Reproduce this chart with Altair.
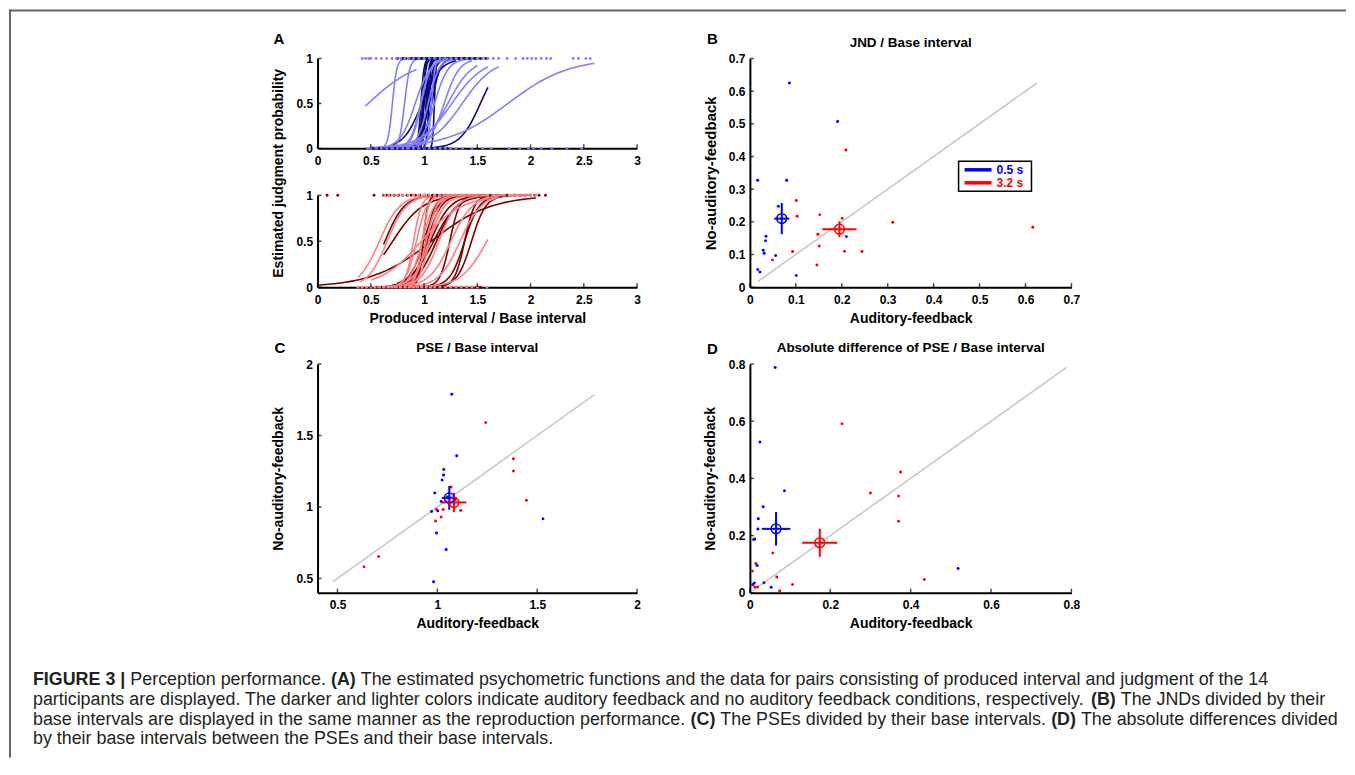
import numpy as np
import pandas as pd
import altair as alt

FONT = "Liberation Sans"
BLUE, RED = "#0000ff", "#ff0000"
DARK_BLUE, LIGHT_BLUE = "#0a0a78", "#7f7fff"
DARK_RED, LIGHT_RED = "#7a0000", "#ff7f7f"
GRAY = "#c8c8c8"
CONDS = ["0.5 s", "3.2 s"]

# ---------------- participant data (index = participant) ----------------
# JND / base interval (panel B): auditory feedback (x), no auditory feedback (y)
jnd05_af = [0.086, 0.191, 0.210, 0.017, 0.080, 0.062, 0.035, 0.034, 0.029, 0.031, 0.056, 0.017, 0.022, 0.101]
jnd05_naf = [0.625, 0.507, 0.155, 0.327, 0.327, 0.248, 0.156, 0.142, 0.113, 0.104, 0.097, 0.054, 0.046, 0.036]
jnd32_af = [0.616, 0.311, 0.201, 0.049, 0.093, 0.101, 0.103, 0.152, 0.148, 0.151, 0.146, 0.209, 0.206, 0.244]
jnd32_naf = [0.183, 0.199, 0.211, 0.083, 0.109, 0.265, 0.217, 0.222, 0.162, 0.126, 0.068, 0.420, 0.110, 0.109]
# PSE / base interval (panel C)
pse05_af = [1.072, 0.981, 1.529, 1.097, 1.032, 1.031, 1.024, 0.987, 1.019, 0.971, 1.002, 0.996, 1.044, 1.050]
pse05_naf = [1.788, 0.477, 0.917, 1.359, 1.262, 1.224, 1.189, 1.098, 1.038, 0.968, 0.973, 0.817, 0.703, 1.070]
pse32_af = [1.069, 0.706, 0.633, 0.991, 1.019, 1.242, 1.381, 1.381, 1.446, 0.996, 1.029, 1.117, 1.060, 1.090]
pse32_naf = [1.140, 0.654, 0.581, 0.901, 0.929, 1.590, 1.338, 1.252, 1.047, 0.982, 0.982, 0.975, 1.020, 1.050]
# Absolute difference of PSE / base interval (panel D)
ad05_af = [0.063, 0.025, 0.086, 0.033, 0.021, 0.020, 0.012, 0.009, 0.018, 0.011, 0.007, 0.035, 0.053, 0.518]
ad05_naf = [0.788, 0.527, 0.357, 0.301, 0.259, 0.223, 0.188, 0.186, 0.095, 0.034, 0.029, 0.035, 0.019, 0.085]
ad32_af = [0.229, 0.375, 0.300, 0.370, 0.370, 0.057, 0.015, 0.006, 0.067, 0.106, 0.012, 0.019, 0.074, 0.434]
ad32_naf = [0.591, 0.422, 0.349, 0.338, 0.250, 0.139, 0.102, 0.076, 0.055, 0.029, 0.020, 0.020, 0.006, 0.046]

# range of produced intervals covered by each participant's psychometric function (panel A)
rng05_af_lo = [0.80, 0.70, 0.95, 0.85, 0.80, 0.75, 0.85, 0.80, 0.90, 0.85, 0.90, 0.85, 0.90, 0.95]
rng05_af_hi = [1.45, 1.30, 1.60, 1.50, 1.40, 1.35, 1.55, 1.30, 1.40, 1.25, 1.45, 1.30, 1.50, 1.35]
rng05_naf_lo = [0.50, 0.45, 0.60, 0.70, 0.65, 0.70, 0.80, 0.75, 0.70, 0.60, 0.60, 0.60, 0.55, 0.80]
rng05_naf_hi = [2.60, 0.93, 1.30, 1.70, 1.60, 1.50, 1.45, 1.40, 1.35, 1.30, 1.25, 1.10, 1.00, 1.30]
rng32_af_lo = [0.00, 0.62, 0.62, 0.70, 0.70, 0.80, 0.80, 0.75, 0.80, 0.60, 0.65, 0.70, 0.70, 0.75]
rng32_af_hi = [2.05, 1.55, 1.00, 1.40, 1.50, 1.70, 1.80, 1.70, 2.00, 1.50, 1.40, 1.60, 1.50, 1.60]
rng32_naf_lo = [0.60, 0.40, 0.38, 0.60, 0.60, 0.80, 0.70, 0.75, 0.60, 0.55, 0.60, 0.50, 0.60, 0.65]
rng32_naf_hi = [2.00, 1.20, 1.10, 1.40, 1.50, 1.60, 1.70, 1.70, 1.50, 1.40, 1.50, 1.60, 1.45, 1.50]

# produced intervals of single trials, judged "longer" (1) or "shorter" (0)
dots05_af_1 = [0.75, 0.80, 0.83, 0.86, 0.88, 0.90, 0.92, 0.94, 0.96, 0.98, 1.00, 1.02, 1.04, 1.06, 1.08, 1.10,
               1.13, 1.16, 1.20, 1.24, 1.28, 1.33, 1.38, 1.43, 1.48, 1.53, 1.58]
dots05_af_0 = [0.52, 0.55, 0.58, 0.61, 0.64, 0.67, 0.70, 0.73, 0.76, 0.79, 0.82, 0.85, 0.88, 0.90, 0.92, 0.94,
               0.96, 0.98, 1.00, 1.03, 1.06, 1.10, 1.14, 1.18, 1.22, 1.25]
dots05_naf_1 = [0.42, 0.45, 0.48, 0.50, 0.55, 0.60, 0.65, 0.70, 0.74, 0.78, 0.82, 0.86, 0.90, 0.95, 1.00, 1.05,
                1.10, 1.15, 1.20, 1.25, 1.30, 1.35, 1.40, 1.45, 1.50, 1.55, 1.60, 1.65, 1.70, 1.78, 1.86, 1.93,
                1.97, 2.01, 2.05, 2.10, 2.15, 2.19, 2.40, 2.45, 2.52, 2.56]
dots05_naf_0 = [0.47, 0.50, 0.55, 0.60, 0.65, 0.70, 0.75, 0.80, 0.85, 0.90, 0.95, 1.00, 1.05, 1.10, 1.15, 1.20,
                1.25, 1.30, 1.36, 1.45, 1.55, 1.63, 1.80, 1.90, 1.98, 2.03, 2.10, 2.20, 2.34, 2.48]
dots32_af_1 = [0.09, 0.19, 0.53, 0.62, 0.65, 0.68, 0.72, 0.76, 0.80, 0.84, 0.88, 0.92, 0.96, 1.00, 1.04, 1.08,
               1.12, 1.16, 1.20, 1.25, 1.30, 1.35, 1.40, 1.45, 1.50, 1.55, 1.62, 1.70, 1.78, 1.85, 1.90, 1.95,
               2.00, 2.04, 2.08, 2.14]
dots32_af_0 = [0.50, 0.55, 0.60, 0.65, 0.70, 0.75, 0.80, 0.85, 0.90, 0.95, 1.00, 1.05, 1.10, 1.15, 1.20, 1.25,
               1.30, 1.35, 1.40, 1.45, 1.49, 1.51, 1.53]
dots32_naf_1 = [0.63, 0.67, 0.71, 0.75, 0.80, 0.85, 0.90, 0.95, 1.00, 1.05, 1.10, 1.15, 1.20, 1.25, 1.30, 1.35,
                1.40, 1.45, 1.50, 1.55, 1.60, 1.65, 1.70, 1.75, 1.80, 1.85, 1.90, 1.95, 2.00, 2.05]
dots32_naf_0 = [0.38, 0.42, 0.46, 0.50, 0.54, 0.58, 0.62, 0.66, 0.70, 0.74, 0.78, 0.82, 0.86, 0.90, 0.94, 0.98,
                1.02, 1.06, 1.10, 1.15, 1.20, 1.25, 1.30, 1.35, 1.40, 1.45, 1.50, 1.59]

# tick labels
A_XTICKS = [0, 0.5, 1, 1.5, 2, 2.5, 3]
A_YTICKS = [0, 0.5, 1]
B_TICKS = [0, 0.1, 0.2, 0.3, 0.4, 0.5, 0.6, 0.7]
C_TICKS = [0.5, 1, 1.5, 2]
D_TICKS = [0, 0.2, 0.4, 0.6, 0.8]

# caption (line, text, bold)
caption_segments = [
    (1, "FIGURE 3 |", True),
    (1, "Perception performance.", False),
    (1, "(A)", True),
    (1, "The estimated psychometric functions and the data for pairs consisting of produced interval and judgment of the 14", False),
    (2, "participants are displayed. The darker and lighter colors indicate auditory feedback and no auditory feedback conditions, respectively.", False),
    (2, "(B)", True),
    (2, "The JNDs divided by their", False),
    (3, "base intervals are displayed in the same manner as the reproduction performance.", False),
    (3, "(C)", True),
    (3, "The PSEs divided by their base intervals.", False),
    (3, "(D)", True),
    (3, "The absolute differences divided", False),
    (4, "by their base intervals between the PSEs and their base intervals.", False),
]

# ---------------- layout constants ----------------
W1, W2, H = 320, 322, 229
HT, HB = 90, 137           # panel A: top sub-panel height, bottom sub-panel top
A_LEFT, A_TOP = 317, 57    # page position of panel A plot area
CAP_SIZE = 17.9
CAP_LEFT = 32
CAP_BASELINES = {1: 684.7, 2: 704.4, 3: 724.1, 4: 743.8}
LEGEND_BOX = (209, 282, 103, 133)   # x1, x2, y1, y2 inside panel B
LEGEND_ROW_Y = [111.5, 124.5]

# Liberation Sans (Arial metrics) advance widths, 1/1000 em, used to flow caption segments
_CH = " !\"#$%&'()*+,-./0123456789:;<=>?@ABCDEFGHIJKLMNOPQRSTUVWXYZ[\\]^_`abcdefghijklmnopqrstuvwxyz{|}~"
_RW = [278, 278, 355, 556, 556, 889, 667, 191, 333, 333, 389, 584, 278, 333, 278, 278] + [556] * 10 + \
      [278, 278, 584, 584, 584, 556, 1015] + \
      [667, 667, 722, 722, 667, 611, 778, 722, 278, 500, 667, 556, 833, 722, 778, 667, 778, 722, 667, 611,
       722, 667, 944, 667, 667, 611] + [278, 278, 278, 469, 556, 333] + \
      [556, 556, 500, 556, 556, 278, 556, 556, 222, 222, 500, 222, 833, 556, 556, 556, 556, 333, 500, 278,
       556, 500, 722, 500, 500, 500] + [334, 260, 334, 584]
REG_W = dict(zip(_CH, _RW))
BOLD_W = dict(REG_W)
BOLD_W.update({"(": 333, ")": 333, "|": 280, "A": 722, "B": 722, "C": 722, "D": 722, "E": 667, "F": 611,
               "G": 778, "I": 278, "R": 722, "U": 722})


def text_width(s, bold):
    w = BOLD_W if bold else REG_W
    return sum(w.get(c, 556) for c in s) / 1000.0 * CAP_SIZE


AXBASE = dict(grid=False, ticks=False, tickSize=0, domainColor="black", domainWidth=2,
              labelColor="black", labelFont=FONT, labelFontWeight="bold", labelFontSize=12,
              titleFont=FONT, titleFontWeight="bold", titleFontSize=14, titleColor="black",
              format="~g", labelFlush=False, labelOverlap=False, labelBound=False)


def ax_x(values, width, title=None, offset=0):
    kw = dict(AXBASE)
    if offset:
        kw["offset"] = offset
    if title is not None:
        kw.update(titleX=width / 2, titleY=31, titleBaseline="middle")
    return alt.Axis(orient="bottom", values=values, tickCount=len(values), labelPadding=7, title=title, **kw)


def ax_y(values, title=None, title_y=H / 2, title_size=14):
    kw = dict(AXBASE)
    if title is not None:
        kw.update(titleX=-39.5, titleY=title_y, titleBaseline="middle", titleFontSize=title_size)
    return alt.Axis(orient="left", values=values, tickCount=len(values), labelPadding=5, title=title, **kw)


def logistic_curves(pse, jnd, lo, hi, n=80):
    rows = []
    for pid, (m, j, a, b) in enumerate(zip(pse, jnd, lo, hi)):
        s = j / (2 * np.log(3.0))
        for x in np.linspace(a, b, n):
            rows.append({"pid": pid, "x": float(x), "y": float(1 / (1 + np.exp(-(x - m) / s)))})
    return pd.DataFrame(rows)


def dots(ones, zeros):
    return pd.DataFrame({"x": ones + zeros, "y": [1] * len(ones) + [0] * len(zeros)})


def psych_subpanel(cd, cl, dd, dl, dark, light, yrange, xaxis, yaxis):
    X = alt.X("x:Q", scale=alt.Scale(domain=[0, 3], nice=False, zero=False), axis=xaxis)
    Y = alt.Y("y:Q", scale=alt.Scale(domain=[0, 1], range=yrange, nice=False, zero=False), axis=yaxis)
    xt = alt.Chart(pd.DataFrame({"x": A_XTICKS})).mark_tick(
        orient="vertical", size=4, thickness=1.5, color="black", yOffset=-2).encode(x=X, y=alt.datum(0))
    yt = alt.Chart(pd.DataFrame({"y": A_YTICKS})).mark_tick(
        orient="horizontal", size=4, thickness=1.5, color="black", xOffset=2).encode(y=Y, x=alt.datum(0))
    return alt.layer(
        alt.Chart(cd).mark_line(color=dark, strokeWidth=1.6).encode(x=X, y=Y, detail="pid:N"),
        alt.Chart(cl).mark_line(color=light, strokeWidth=1.6).encode(x=X, y=Y, detail="pid:N"),
        alt.Chart(dd).mark_circle(color=dark, size=8, opacity=1).encode(x=X, y=Y),
        alt.Chart(dl).mark_circle(color=light, size=8, opacity=1).encode(x=X, y=Y),
        xt, yt,
    )


def text_layer(text, dx, dy, size, align="left"):
    return alt.Chart(pd.DataFrame({"t": [text]})).mark_text(
        font=FONT, fontSize=size, fontWeight="bold", align=align, baseline="alphabetic", color="black"
    ).encode(text="t:N", x=alt.value(dx), y=alt.value(dy))


# ---------------- panel A ----------------
top = psych_subpanel(
    logistic_curves(pse05_af, jnd05_af, rng05_af_lo, rng05_af_hi),
    logistic_curves(pse05_naf, jnd05_naf, rng05_naf_lo, rng05_naf_hi),
    dots(dots05_af_1, dots05_af_0), dots(dots05_naf_1, dots05_naf_0),
    DARK_BLUE, LIGHT_BLUE, [HT, 0],
    ax_x(A_XTICKS, W1, offset=HT - H), ax_y(A_YTICKS))
bottom = psych_subpanel(
    logistic_curves(pse32_af, jnd32_af, rng32_af_lo, rng32_af_hi),
    logistic_curves(pse32_naf, jnd32_naf, rng32_naf_lo, rng32_naf_hi),
    dots(dots32_af_1, dots32_af_0), dots(dots32_naf_1, dots32_naf_0),
    DARK_RED, LIGHT_RED, [H, HB],
    ax_x(A_XTICKS, W1, title="Produced interval / Base interval"),
    ax_y(A_YTICKS, title="Estimated judgment probability"))

# figure frame + caption, placed relative to panel A
one = pd.DataFrame({"a": [0]})
frame = alt.layer(
    alt.Chart(one).mark_rule(color="#666666", strokeWidth=2).encode(
        x=alt.value(8 - A_LEFT), x2=alt.value(1347 - A_LEFT), y=alt.value(9 - A_TOP)),
    alt.Chart(one).mark_rule(color="#666666", strokeWidth=2).encode(
        x=alt.value(9 - A_LEFT), y=alt.value(8 - A_TOP), y2=alt.value(757 - A_TOP)),
)
cap_rows = []
cur_line, cur_x = None, CAP_LEFT
for line, txt, bold in caption_segments:
    if line != cur_line:
        cur_line, cur_x = line, CAP_LEFT
    cap_rows.append({"t": txt, "bold": bold, "px": cur_x - A_LEFT, "py": CAP_BASELINES[line] - A_TOP})
    cur_x += text_width(txt, bold) + text_width(" ", False)
cap_base = alt.Chart(pd.DataFrame(cap_rows)).encode(
    x=alt.X("px:Q", scale=None), y=alt.Y("py:Q", scale=None), text="t:N")
caption = alt.layer(
    cap_base.transform_filter("!datum.bold").mark_text(
        font=FONT, fontSize=CAP_SIZE, align="left", baseline="alphabetic", color="#231f20"),
    cap_base.transform_filter("datum.bold").mark_text(
        font=FONT, fontSize=CAP_SIZE, fontWeight="bold", align="left", baseline="alphabetic", color="#231f20"),
)

panelA = alt.layer(top, bottom, alt.layer(frame, caption, text_layer("A", -44, -15, 15))).resolve_scale(
    x="independent", y="independent").properties(width=W1, height=H)


# ---------------- panels B, C, D ----------------
def scatter_panel(af05, naf05, af32, naf32, domain, ticks, width, title, letter, letter_dy,
                  ytitle_size=14, legend=False):
    df = pd.DataFrame({"cond": [CONDS[0]] * len(af05) + [CONDS[1]] * len(af32),
                       "af": af05 + af32, "naf": naf05 + naf32})
    sx = alt.Scale(domain=domain, nice=False, zero=False)
    sy = alt.Scale(domain=domain, nice=False, zero=False)
    axx = ax_x(ticks, width, title="Auditory-feedback")
    axy = ax_y(ticks, title="No-auditory-feedback", title_size=ytitle_size)
    X = lambda f: alt.X(f, scale=sx, axis=axx)
    Y = lambda f: alt.Y(f, scale=sy, axis=axy)
    col = alt.Color("cond:N", scale=alt.Scale(domain=CONDS, range=[BLUE, RED]), legend=None)
    allv = af05 + naf05 + af32 + naf32
    diag = alt.Chart(pd.DataFrame({"af": [min(allv), max(allv)], "naf": [min(allv), max(allv)]})).mark_line(
        color=GRAY, strokeWidth=1.6).encode(x=X("af:Q"), y=Y("naf:Q"))
    pts = alt.Chart(df).mark_circle(size=9, opacity=1).encode(x=X("af:Q"), y=Y("naf:Q"), color=col)
    agg = alt.Chart(df).transform_aggregate(
        mx="mean(af)", my="mean(naf)", sx="stderr(af)", sy="stderr(naf)", groupby=["cond"]
    ).transform_calculate(
        xlo="datum.mx - datum.sx", xhi="datum.mx + datum.sx",
        ylo="datum.my - datum.sy", yhi="datum.my + datum.sy")
    ring = agg.mark_point(shape="circle", filled=False, size=95, strokeWidth=1.6, opacity=1).encode(
        x=X("mx:Q"), y=Y("my:Q"), color=col)
    hbar = agg.mark_rule(strokeWidth=2).encode(x=X("xlo:Q"), x2="xhi:Q", y=Y("my:Q"), color=col)
    vbar = agg.mark_rule(strokeWidth=2).encode(x=X("mx:Q"), y=Y("ylo:Q"), y2="yhi:Q", color=col)
    xt = alt.Chart(pd.DataFrame({"af": ticks})).mark_tick(
        orient="vertical", size=4, thickness=1.5, color="black", yOffset=-2).encode(
        x=X("af:Q"), y=alt.datum(domain[0]))
    yt = alt.Chart(pd.DataFrame({"naf": ticks})).mark_tick(
        orient="horizontal", size=4, thickness=1.5, color="black", xOffset=2).encode(
        y=Y("naf:Q"), x=alt.datum(domain[0]))
    layers = [diag, pts, hbar, vbar, ring, xt, yt,
              text_layer(letter, -43, letter_dy, 15),
              text_layer(title, width / 2, -12, 13.5, align="center")]
    if legend:
        x1, x2, y1, y2 = LEGEND_BOX
        leg_df = pd.DataFrame({"cond": CONDS, "ly": LEGEND_ROW_Y})
        layers += [
            alt.Chart(one).mark_rect(fill="white", stroke="black", strokeWidth=1.5).encode(
                x=alt.value(x1), x2=alt.value(x2), y=alt.value(y1), y2=alt.value(y2)),
            alt.Chart(leg_df).mark_rule(strokeWidth=3.5).encode(
                x=alt.value(x1 + 6), x2=alt.value(x1 + 33), y=alt.Y("ly:Q", scale=None), color=col),
            alt.Chart(leg_df).mark_text(font=FONT, fontSize=12, fontWeight="bold", align="left",
                                        baseline="middle").encode(
                x=alt.value(x1 + 38), y=alt.Y("ly:Q", scale=None), text="cond:N", color=col),
        ]
    return alt.layer(*layers).properties(width=width, height=H)


panelB = scatter_panel(jnd05_af, jnd05_naf, jnd32_af, jnd32_naf, [0, 0.7], B_TICKS, W2,
                       "JND / Base interval", "B", -15, ytitle_size=15, legend=True)
panelC = scatter_panel(pse05_af, pse05_naf, pse32_af, pse32_naf, [0.4, 2], C_TICKS, W1,
                       "PSE / Base interval", "C", -11)
panelD = scatter_panel(ad05_af, ad05_naf, ad32_af, ad32_naf, [0, 0.8], D_TICKS, W2,
                       "Absolute difference of PSE / Base interval", "D", -10)

chart = alt.concat(
    panelA, panelB, panelC, panelD, columns=2, spacing={"row": 77, "column": 113}, bounds="flush"
).resolve_scale(color="independent").properties(padding=0, background="white").configure_view(stroke=None)

chart.save("out.html", embed_options={"renderer": "svg", "actions": False})
